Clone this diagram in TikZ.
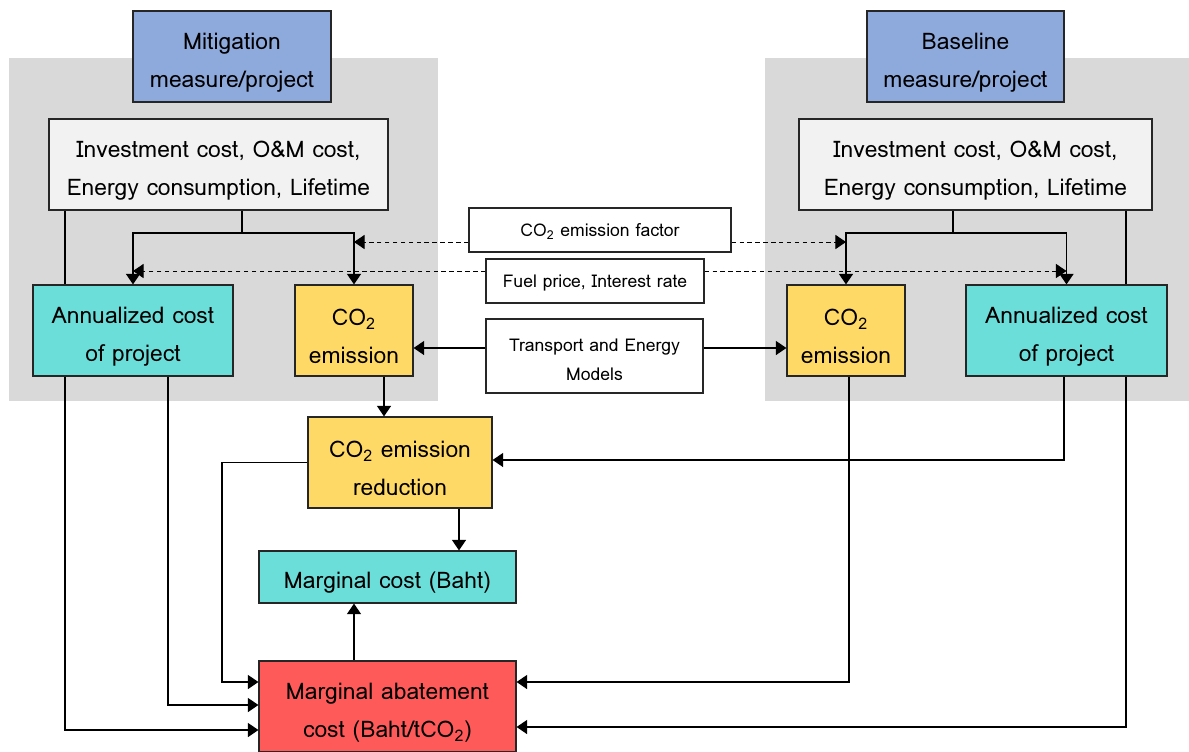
\documentclass[tikz,border=0pt]{standalone}
\usepackage{fontspec}
\setmainfont{Loma}
\usetikzlibrary{positioning,arrows.meta,calc}
\definecolor{projblue}{RGB}{142,169,219}
\definecolor{panelgrey}{RGB}{217,217,217}
\definecolor{inputgrey}{RGB}{242,242,242}
\definecolor{costteal}{RGB}{108,222,218}
\definecolor{co2yellow}{RGB}{255,217,102}
\definecolor{macred}{RGB}{255,90,90}
% taller first line, so the text sits a little low in its box
\newcommand{\lowbig}{\rule{0pt}{16pt}}
\newcommand{\lowsmall}{\rule{0pt}{11.5pt}}
\tikzset{
  box/.style={draw=black!85, line width=0.7pt, align=center, inner sep=1pt,
    font=\fontsize{13}{21.5}\selectfont},
  lift/.style={execute at begin node={\rule{0pt}{#1}}},
  bigbox/.style={box, minimum height=1.82cm},
  smallbox/.style={box, fill=white, font=\fontsize{10}{17}\selectfont},
  link/.style={line width=0.75pt},
  arr/.style={link, -{Triangle[length=6pt,width=8pt]}},
  dotline/.style={arr, dashed, dash pattern=on 2.5pt off 2pt, line width=0.55pt},
}

\begin{document}
\begin{tikzpicture}[x=0.02cm,y=-0.02cm]
\useasboundingbox (0,0) rectangle (1189,751);
% grey panels
\fill[panelgrey] (9,58) rectangle (438,401);
\fill[panelgrey] (765,58) rectangle (1189,401);

\node[bigbox, fill=projblue, minimum width=3.96cm] (mitig) at (232,56.5) {\lowbig Mitigation\\measure/project};
\node[bigbox, fill=projblue, minimum width=3.94cm] (base) at (965.5,56.5) {\lowbig Baseline\\measure/project};
\node[bigbox, fill=inputgrey, minimum width=6.78cm] (inpL) at (218.5,164.5) {\lowbig Investment cost, O\&M cost,\\Energy consumption, Lifetime};
\node[bigbox, fill=inputgrey, minimum width=7.06cm] (inpR) at (975.5,164.5) {\lowbig Investment cost, O\&M cost,\\Energy consumption, Lifetime};
\node[bigbox, fill=costteal, minimum width=4.0cm] (annL) at (133,330.5) {\lowbig Annualized cost\\of project};
\node[bigbox, fill=co2yellow, minimum width=2.36cm] (co2L) at (354,330.5) {\lowbig CO\textsubscript{2}\\emission};
\node[bigbox, fill=co2yellow, minimum width=2.36cm] (co2R) at (846,330.5) {\lowbig CO\textsubscript{2}\\emission};
\node[bigbox, fill=costteal, minimum width=4.02cm] (annR) at (1066.5,330.5) {\lowbig Annualized cost\\of project};
\node[smallbox, lift=9.5pt, minimum width=5.24cm, minimum height=0.88cm] (ef) at (600,230) {CO\textsubscript{2} emission factor};
\node[smallbox, lift=9.5pt, minimum width=4.36cm, minimum height=0.88cm] (fuel) at (595,281) {Fuel price, Interest rate};
\node[smallbox, minimum width=4.34cm, minimum height=1.48cm] (tem) at (594.5,356) {\lowsmall Transport and Energy\\Models};
\node[bigbox, fill=co2yellow, minimum width=3.68cm] (red) at (400,462.5) {\lowbig CO\textsubscript{2} emission\\reduction};
\node[box, lift=16pt, fill=costteal, minimum width=5.14cm, minimum height=1.04cm] (mc) at (387.5,577) {Marginal cost (Baht)};
\node[bigbox, fill=macred, minimum width=5.14cm] (mac) at (387.5,706.5) {\lowbig Marginal abatement\\cost (Baht/tCO\textsubscript{2})};

% routing points
\coordinate (brL) at (242,233);
\coordinate (brR) at (953,233);
\coordinate (efy) at (0,242);
\coordinate (fuely) at (0,271);
\coordinate (temy) at (0,348);
\coordinate (lx1) at (65,730);
\coordinate (lx2) at (168,705);
\coordinate (lx3) at (222,682);
\coordinate (cx) at (384,0);
\coordinate (rx) at (459,0);
\coordinate (mx) at (354,0);
\coordinate (rx1) at (849,682);
\coordinate (rx2) at (1064,460);
\coordinate (rx3) at (1126,727);

% inputs to annualized cost and emission
\draw[link] (inpL.south -| brL) -- (brL);
\draw[arr] (brL) -| (annL.north);
\draw[arr] (brL) -| (co2L.north);
\draw[link] (inpR.south -| brR) -- (brR);
\draw[arr] (brR) -| (co2R.north);
\draw[arr] (brR) -| (annR.north);
% shared parameters
\draw[dotline] (ef.west |- efy) -- (co2L.north |- efy);
\draw[dotline] (ef.east |- efy) -- (co2R.north |- efy);
\draw[dotline] (fuel.west |- fuely) -- (annL.north |- fuely);
\draw[dotline] (fuel.east |- fuely) -- (annR.north |- fuely);
\draw[arr] (tem.west |- temy) -- (co2L.east |- temy);
\draw[arr] (tem.east |- temy) -- (co2R.west |- temy);
% left side to outputs
\draw[link] (inpL.south -| lx1) -- (annL.north -| lx1);
\draw[arr] (annL.south -| lx1) -- (lx1) -- (mac.west |- lx1);
\draw[arr] (annL.south -| lx2) -- (lx2) -- (mac.west |- lx2);
\draw[arr] (red.west) -| (lx3) -- (mac.west |- lx3);
\draw[arr] (co2L.south -| cx) -- (red.north -| cx);
\draw[arr] (red.south -| rx) -- (mc.north -| rx);
\draw[arr] (mac.north -| mx) -- (mc.south -| mx);
% right side to outputs
\draw[arr] (co2R.south -| rx1) -- (rx1) -- (mac.east |- rx1);
\draw[arr] (annR.south -| rx2) -- (rx2) -- (red.east |- rx2);
\draw[link] (inpR.south -| rx3) -- (annR.north -| rx3);
\draw[arr] (annR.south -| rx3) -- (rx3) -- (mac.east |- rx3);
\end{tikzpicture}
\end{document}
